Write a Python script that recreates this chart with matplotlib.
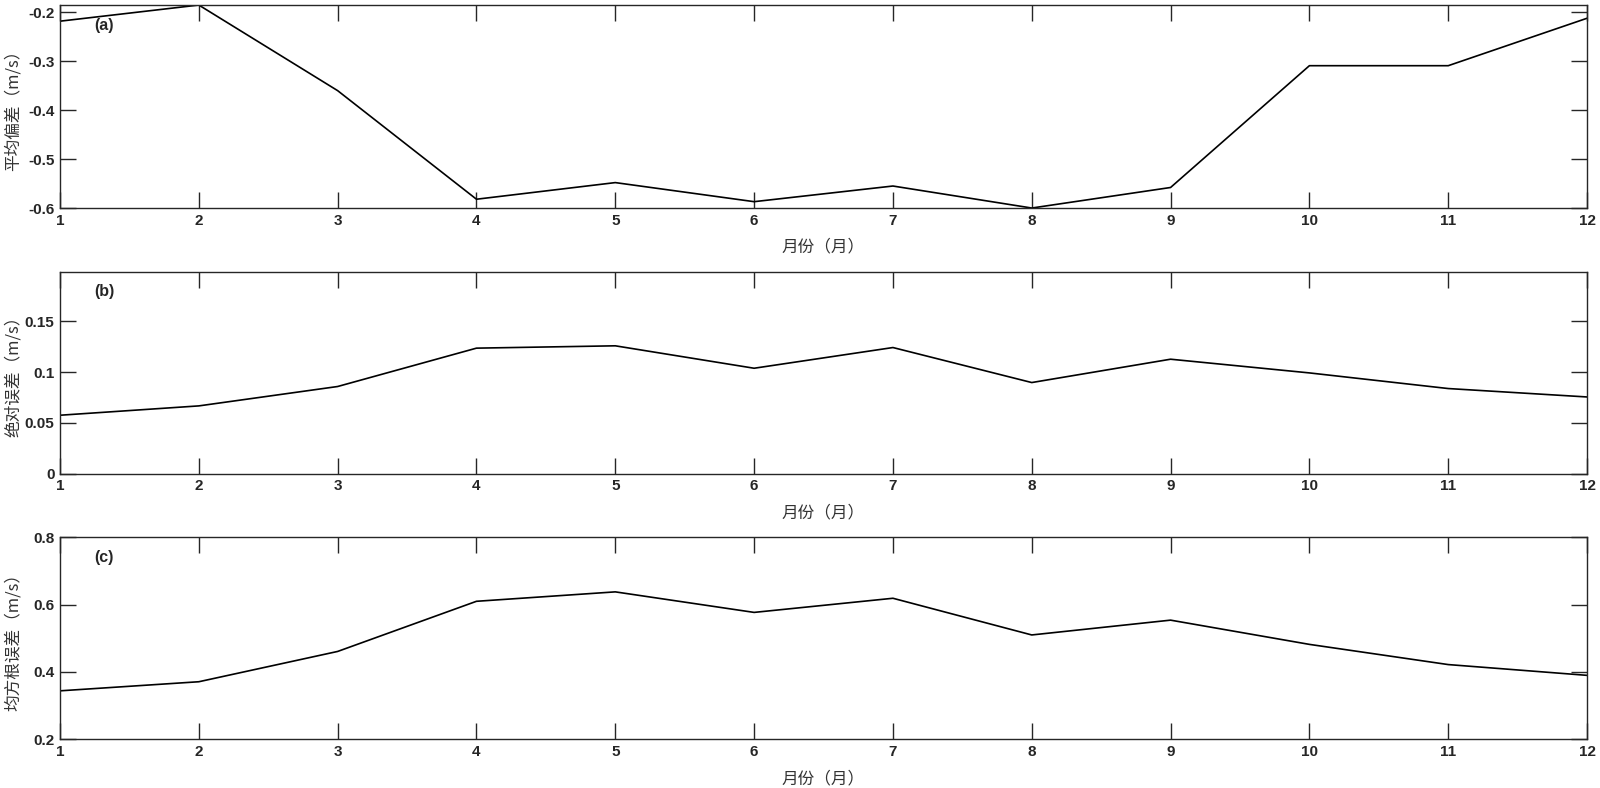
import matplotlib
matplotlib.use('Agg')
import matplotlib.pyplot as plt

months = [1, 2, 3, 4, 5, 6, 7, 8, 9, 10, 11, 12]

# mean bias (m/s)
bias = [-0.218, -0.185, -0.360, -0.582, -0.548, -0.587,
        -0.555, -0.600, -0.558, -0.309, -0.309, -0.212]
# mean absolute error (m/s)
mae = [0.0575, 0.0667, 0.0858, 0.1236, 0.1259, 0.1038,
       0.1242, 0.0897, 0.1127, 0.0992, 0.0838, 0.0755]
# root mean square error (m/s)
rmse = [0.344, 0.371, 0.461, 0.610, 0.638, 0.577,
        0.619, 0.510, 0.554, 0.482, 0.422, 0.390]

ylabels = ['平均偏差（m/s）', '绝对误差（m/s）', '均方根误差（m/s）']
panel_tags = ['(a)', '(b)', '(c)']
xlabel = '月份（月）'

yticks = [[-0.6, -0.5, -0.4, -0.3, -0.2],
          [0, 0.05, 0.1, 0.15],
          [0.2, 0.4, 0.6, 0.8]]
yticklabels = [['-0.6', '-0.5', '-0.4', '-0.3', '-0.2'],
               ['0', '0.05', '0.1', '0.15'],
               ['0.2', '0.4', '0.6', '0.8']]
ylims = [(min(bias), max(bias)), (0, 0.199), (0.2, 0.8)]

cjk = ['Noto Sans CJK SC', 'DejaVu Sans']
edge = '#262626'

fig = plt.figure(figsize=(16, 7.88), dpi=100)

positions = [[0.0375, 0.736, 0.9544, 0.2576],
             [0.0375, 0.399, 0.9544, 0.2563],
             [0.0375, 0.0618, 0.9544, 0.2563]]

for i, series in enumerate([bias, mae, rmse]):
    ax = fig.add_axes(positions[i])
    ax.plot(months, series, '-', color='black', linewidth=1.2)
    ax.set_xlim(1, 12)
    ax.set_ylim(*ylims[i])
    ax.set_xticks(months)
    ax.set_xticklabels([str(m) for m in months])
    ax.set_yticks(yticks[i])
    ax.set_yticklabels(yticklabels[i])
    ax.tick_params(direction='in', length=11.5, width=1, color=edge,
                   top=True, right=True, labelsize=11, labelcolor=edge, pad=4)
    for lab in ax.get_xticklabels() + ax.get_yticklabels():
        lab.set_fontweight('bold')
        lab.set_family(['Liberation Sans', 'DejaVu Sans'])
    for sp in ax.spines.values():
        sp.set_color(edge)
        sp.set_linewidth(1)
    ax.set_ylabel(ylabels[i], family=cjk, fontsize=12, color='#333333')
    ax.yaxis.set_label_coords(-0.0308, 0.5)
    ax.yaxis.label.set_verticalalignment('center')
    ax.set_xlabel(xlabel, family=cjk, fontsize=12, color='#333333', labelpad=8)
    ax.text(0.0225, 0.9, panel_tags[i], transform=ax.transAxes,
            fontsize=11.5, fontweight='bold', family=['Liberation Sans', 'DejaVu Sans'],
            color=edge, ha='left', va='center')

fig.savefig('out.png', dpi=100)
